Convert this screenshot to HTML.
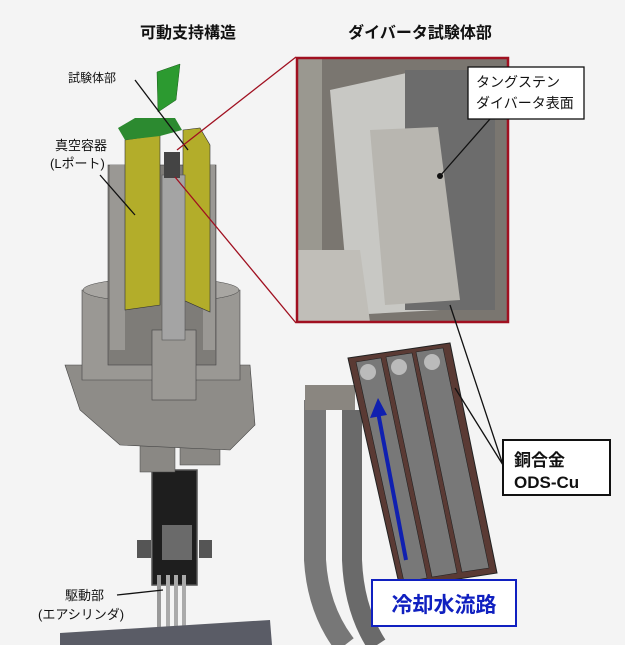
<!DOCTYPE html>
<html><head><meta charset="utf-8"><style>
body{margin:0;background:#f4f4f4;}
svg{display:block;font-family:"Liberation Sans","Noto Sans CJK JP",sans-serif;}
</style></head><body>
<svg width="625" height="645" viewBox="0 0 625 645" xmlns="http://www.w3.org/2000/svg">
<rect width="625" height="645" fill="#f4f4f4"/>
<text x="188" y="38" font-size="16" font-weight="bold" text-anchor="middle" fill="#111">可動支持構造</text>
<text x="420" y="38" font-size="16" font-weight="bold" text-anchor="middle" fill="#111">ダイバータ試験体部</text>

<!-- left structure -->
<rect x="152" y="470" width="45" height="115" fill="#1e1e1e" stroke="#555" stroke-width="1.5"/>
<rect x="162" y="525" width="30" height="35" fill="#6a6a6a"/>
<rect x="137" y="540" width="14" height="18" fill="#555"/>
<rect x="199" y="540" width="13" height="18" fill="#555"/>
<rect x="157" y="575" width="4" height="55" fill="#999"/>
<rect x="166" y="575" width="4" height="65" fill="#aaa"/>
<rect x="174" y="575" width="4" height="65" fill="#aaa"/>
<rect x="182" y="575" width="4" height="65" fill="#aaa"/>
<polygon points="60,633 270,620 272,645 60,645" fill="#5a5c66"/>
<rect x="140" y="440" width="35" height="32" fill="#8a8884" stroke="#444" stroke-width="0.5"/>
<rect x="180" y="440" width="40" height="25" fill="#8a8884" stroke="#444" stroke-width="0.5"/>
<polygon points="65,365 250,365 255,425 230,450 120,445 80,410" fill="#8e8c88" stroke="#444" stroke-width="0.6"/>
<polygon points="82,290 240,290 240,380 82,380" fill="#9a9894" stroke="#444" stroke-width="0.6"/>
<ellipse cx="161" cy="290" rx="78" ry="12" fill="#a8a6a2" stroke="#444" stroke-width="0.5"/>
<rect x="108" y="165" width="108" height="200" fill="#7e7c78" stroke="#444" stroke-width="0.6"/>
<rect x="110" y="165" width="15" height="185" fill="#9a9894"/>
<rect x="203" y="165" width="12" height="185" fill="#9a9894"/>
<rect x="152" y="330" width="44" height="70" fill="#9a9894" stroke="#444" stroke-width="0.6"/>
<polygon points="125,140 160,135 160,305 125,310" fill="#b3ad2a" stroke="#333" stroke-width="0.6"/>
<polygon points="183,130 200,128 210,145 210,312 183,300" fill="#b3ad2a" stroke="#333" stroke-width="0.6"/>
<polygon points="118,128 135,118 175,118 182,130 160,136 125,140" fill="#2c8a30"/>
<polygon points="157,72 180,64 176,100 158,112" fill="#2c9a30" stroke="#1a5a1a" stroke-width="0.5"/>
<rect x="162" y="175" width="23" height="165" fill="#a4a4a4" stroke="#555" stroke-width="0.6"/>
<rect x="164" y="152" width="16" height="26" fill="#444"/>
<text x="68" y="82" font-size="12" fill="#111">試験体部</text>
<text x="55" y="150" font-size="13" fill="#111">真空容器</text>
<text x="50" y="168" font-size="13" fill="#111">(Lポート)</text>
<text x="65" y="600" font-size="13" fill="#111">駆動部</text>
<text x="38" y="619" font-size="13" fill="#111">(エアシリンダ)</text>
<line x1="135" y1="80" x2="188" y2="150" stroke="#111" stroke-width="1.3"/>
<line x1="100" y1="175" x2="135" y2="215" stroke="#111" stroke-width="1.3"/>
<line x1="117" y1="595" x2="163" y2="590" stroke="#111" stroke-width="1.3"/>

<!-- red connectors -->
<line x1="177" y1="150" x2="296" y2="57" stroke="#a01020" stroke-width="1.3"/>
<line x1="175" y1="177" x2="296" y2="323" stroke="#a01020" stroke-width="1.3"/>

<!-- photo -->
<rect x="297" y="58" width="211" height="264" fill="#7a7670"/>
<rect x="297" y="58" width="25" height="264" fill="#9a9890"/>
<polygon points="330,90 420,70 440,310 350,315" fill="#c8c8c4"/>
<rect x="405" y="70" width="90" height="240" fill="#6c6c6c"/>
<polygon points="370,130 438,127 460,300 385,305" fill="#b8b6b0"/>
<polygon points="298,250 360,250 370,322 298,322" fill="#c0beb8"/>
<rect x="297" y="58" width="211" height="264" fill="none" stroke="#a01020" stroke-width="2.5"/>
<rect x="468" y="67" width="116" height="52" fill="#fff" stroke="#111" stroke-width="1.3"/>
<text x="476" y="87" font-size="14" fill="#111">タングステン</text>
<text x="476" y="108" font-size="14" fill="#111">ダイバータ表面</text>
<line x1="490" y1="119" x2="440" y2="176" stroke="#111" stroke-width="1.3"/>
<circle cx="440" cy="176" r="3" fill="#111"/>

<!-- pipes -->
<path d="M315,400 L315,560 Q318,610 345,645" stroke="#777" stroke-width="22" fill="none"/>
<path d="M352,410 L352,560 Q354,610 377,645" stroke="#6a6a6a" stroke-width="20" fill="none"/>
<rect x="305" y="385" width="50" height="25" fill="#8a8680"/>

<!-- cooling plate -->
<polygon points="348,358 450,343 497,573 400,588" fill="#5a3a34" stroke="#222"/>
<polygon points="356,362 381,358 427,578 404,582" fill="#787878" stroke="#222" stroke-width="0.6"/>
<polygon points="386,357 412,353 457,573 432,577" fill="#787878" stroke="#222" stroke-width="0.6"/>
<polygon points="416,352 443,348 489,568 462,572" fill="#787878" stroke="#222" stroke-width="0.6"/>
<circle cx="368" cy="372" r="8" fill="#bbb"/><circle cx="399" cy="367" r="8" fill="#bbb"/><circle cx="432" cy="362" r="8" fill="#bbb"/>
<line x1="406" y1="560" x2="378" y2="412" stroke="#1020b0" stroke-width="4"/>
<polygon points="378,398 370,418 387,415" fill="#1020b0"/>

<!-- ODS -->
<line x1="503" y1="465" x2="455" y2="388" stroke="#111" stroke-width="1.3"/>
<line x1="503" y1="465" x2="450" y2="305" stroke="#111" stroke-width="1.3"/>
<rect x="503" y="440" width="107" height="55" fill="#fff" stroke="#111" stroke-width="2"/>
<text x="514" y="466" font-size="17" font-weight="bold" fill="#111">銅合金</text>
<text x="514" y="488" font-size="17" font-weight="bold" fill="#111">ODS-Cu</text>

<rect x="372" y="580" width="144" height="46" fill="#fff" stroke="#1020c0" stroke-width="2"/>
<text x="444" y="612" font-size="21" font-weight="bold" text-anchor="middle" fill="#1020c0">冷却水流路</text>
</svg>
</body></html>
